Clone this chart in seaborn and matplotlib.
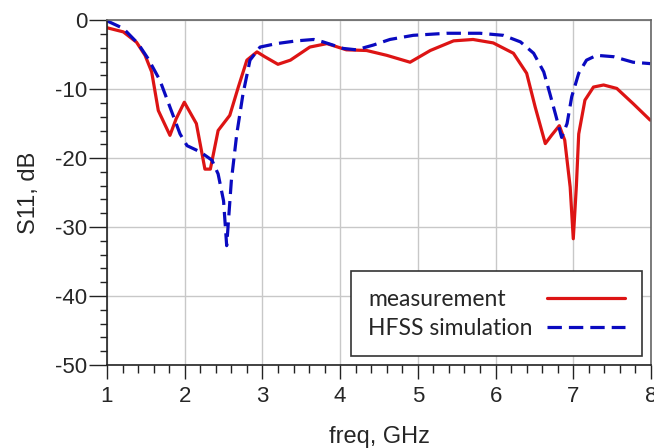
import matplotlib
matplotlib.use("Agg")
import matplotlib.pyplot as plt
import seaborn as sns
from matplotlib.ticker import MultipleLocator

# measured S11 (red)
freq_meas = [1.0, 1.21, 1.38, 1.49, 1.575, 1.66, 1.81, 1.89, 1.995, 2.15, 2.26, 2.33,
             2.43, 2.58, 2.69, 2.80, 2.93, 3.03, 3.20, 3.36, 3.61, 3.83, 4.08, 4.34,
             4.60, 4.90, 5.16, 5.46, 5.71, 5.97, 6.23, 6.40, 6.51, 6.64, 6.72, 6.82,
             6.89, 6.96, 7.0, 7.04, 7.07, 7.15, 7.26, 7.39, 7.56, 7.77, 7.99]
s11_meas = [-1.1, -1.7, -3.2, -5.1, -7.5, -13.1, -16.7, -14.3, -11.9, -15.0, -21.6, -21.6,
            -16.0, -13.8, -9.7, -5.8, -4.6, -5.3, -6.4, -5.8, -3.9, -3.4, -4.3, -4.4,
            -5.1, -6.1, -4.4, -3.0, -2.8, -3.3, -4.8, -7.7, -12.6, -17.9, -16.7, -15.3,
            -17.4, -24.2, -31.7, -24.0, -16.5, -11.6, -9.7, -9.4, -9.9, -12.1, -14.5]

# HFSS simulated S11 (blue dashed)
freq_hfss = [1.0, 1.21, 1.40, 1.53, 1.68, 1.81, 1.94, 2.03, 2.20, 2.35, 2.43, 2.50,
             2.54, 2.60, 2.67, 2.75, 2.84, 2.97, 3.18, 3.44, 3.66, 3.78, 4.04, 4.21,
             4.43, 4.64, 4.94, 5.37, 5.80, 6.10, 6.32, 6.49, 6.62, 6.70, 6.77, 6.85,
             6.92, 6.98, 7.07, 7.17, 7.30, 7.52, 7.77, 7.99]
s11_hfss = [-0.1, -1.2, -3.4, -5.6, -8.7, -12.6, -16.5, -18.2, -19.1, -20.3, -22.3, -26.2,
            -32.7, -23.3, -16.5, -10.7, -5.8, -3.9, -3.4, -3.0, -2.8, -3.15, -4.1, -4.3,
            -3.6, -2.8, -2.2, -1.9, -1.9, -2.2, -3.15, -4.8, -7.5, -10.7, -13.6, -17.0,
            -15.0, -11.1, -7.7, -5.8, -5.1, -5.3, -6.1, -6.3]

sns.set_theme(style="ticks")
plt.rcParams["font.family"] = ["Liberation Sans", "DejaVu Sans"]
plt.rcParams["axes.unicode_minus"] = False

fig = plt.figure(figsize=(6.54, 4.48), dpi=100)
ax = fig.add_axes([0.1636, 0.1853, 0.8318, 0.7697])

sns.lineplot(x=freq_meas, y=s11_meas, color="#dd1414", lw=2.3, ax=ax,
             label="measurement", sort=False)
sns.lineplot(x=freq_hfss, y=s11_hfss, color="#0a0ac0", lw=2.3, ax=ax,
             label="HFSS simulation", sort=False)
ax.lines[1].set_dashes([4.5, 2.2])

ax.set_xlim(1, 8)
ax.set_ylim(-50, 0)
ax.xaxis.set_major_locator(MultipleLocator(1))
ax.xaxis.set_minor_locator(MultipleLocator(0.2))
ax.yaxis.set_major_locator(MultipleLocator(10))
ax.yaxis.set_minor_locator(MultipleLocator(2))
ax.grid(True, which="major", color="#c8c8c8", lw=1.0)
ax.set_axisbelow(True)

ax.tick_params(which="both", width=1.0, color="#222222", labelsize=16)
ax.tick_params(axis="x", which="major", length=10, pad=5)
ax.tick_params(axis="x", which="minor", length=6)
ax.tick_params(axis="y", which="major", length=13, pad=1)
ax.tick_params(axis="y", which="minor", length=5)
for side in ["left", "bottom"]:
    ax.spines[side].set_color("#222222")
    ax.spines[side].set_linewidth(1.2)
for side in ["top", "right"]:
    ax.spines[side].set_visible(True)
    ax.spines[side].set_color("#666666")
    ax.spines[side].set_linewidth(1.2)

ax.set_xlabel("freq, GHz", fontsize=17, labelpad=14)
ax.set_ylabel("S11, dB", fontsize=17, labelpad=11)

leg = ax.legend(loc="lower right", markerfirst=False, frameon=True, fancybox=False,
                edgecolor="#333333", framealpha=1, handlelength=3.4,
                borderaxespad=0.4, handletextpad=0.6, labelspacing=0.35,
                borderpad=0.75,
                prop={"family": ["Lato", "DejaVu Sans"], "size": 16.5})
leg.get_frame().set_linewidth(1.2)

# left-align the labels: widen the gap before the handle on shorter rows
fig.canvas.draw()
renderer = fig.canvas.get_renderer()
widths = [t.get_window_extent(renderer).width for t in leg.get_texts()]
rows = leg._legend_handle_box.get_children()[0].get_children()
for row, w in zip(rows, widths):
    row.sep += (max(widths) - w) * 72 / fig.dpi

fig.savefig("out.png", dpi=100)
